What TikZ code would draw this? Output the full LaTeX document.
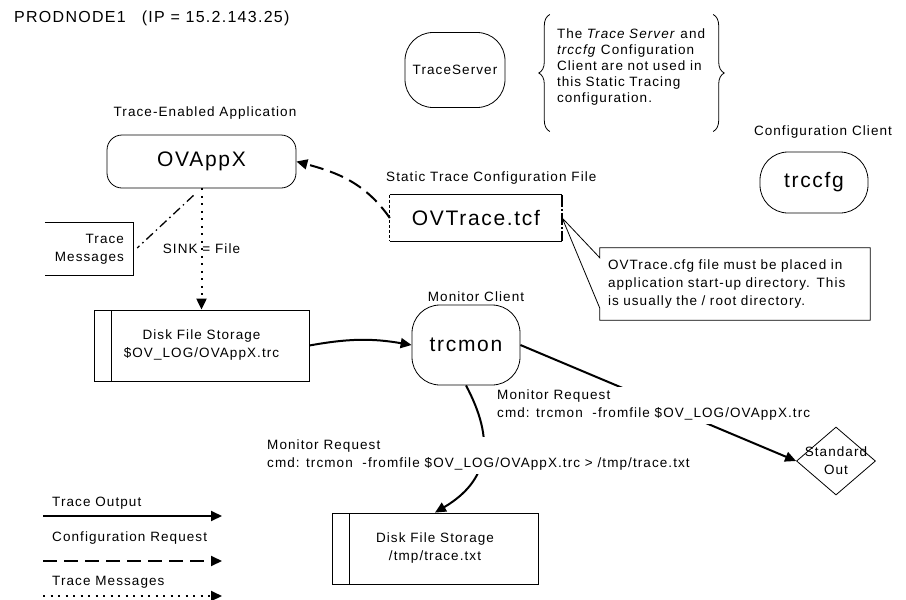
\documentclass[tikz,border=0pt]{standalone}
\usepackage{fontspec}
\setmainfont{Liberation Sans}[LetterSpace=8]
\usetikzlibrary{shapes.geometric, arrows.meta, decorations.pathreplacing}
\newcommand{\smalltxt}{\fontsize{13.5}{18}\selectfont}
\newcommand{\bigtxt}{\fontsize{21}{24}\selectfont}
\tikzstyle{lbl} = [font=\smalltxt, inner sep=0pt]
\tikzstyle{blob} = [rectangle, draw, line width=0.8pt, rounded corners=28pt, minimum width=108pt]
\tikzstyle{appbox} = [rectangle, draw, line width=0.8pt, rounded corners=15pt, minimum width=189pt, minimum height=53pt, font=\bigtxt]
\tikzstyle{disk} = [rectangle, draw, line width=0.8pt, minimum height=71pt, align=center, font=\smalltxt, path picture={\draw[line width=0.8pt] ([xshift=17pt]path picture bounding box.north west) -- ([xshift=17pt]path picture bounding box.south west);}]
\tikzstyle{filebox} = [rectangle, minimum width=172pt, minimum height=46pt, font=\bigtxt]
\tikzstyle{hint} = [rectangle, align=left, font=\smalltxt, text width=254pt, inner xsep=8pt, minimum height=72pt]
\tikzstyle{outbox} = [diamond, draw, line width=0.8pt, minimum width=79pt, minimum height=68pt, inner sep=0pt]
\tikzstyle{request} = [align=left, font=\smalltxt, fill=white, inner sep=3pt, anchor=west]
\tikzstyle{thinline} = [line width=0.8pt]
\tikzstyle{curly} = [line width=0.8pt, decorate, decoration={brace, amplitude=11pt}]
\tikzstyle{arrow} = [line width=2pt, ->, >={Triangle[length=11pt,width=10pt]}]
\tikzstyle{cfgarrow} = [arrow, dash pattern=on 14pt off 7pt]
\tikzstyle{msgarrow} = [arrow, dash pattern=on 2pt off 5.5pt]
\tikzstyle{noteline} = [line width=1.3pt, dash pattern=on 9pt off 4pt on 1.5pt off 4pt]

\begin{document}
\begin{tikzpicture}[x=1pt, y=1pt]
            \useasboundingbox (0,0) rectangle (906,-600);
            \node [lbl, anchor=west, font=\fontsize{16}{18}\selectfont] at (14,-18) (title) {PRODNODE1\quad (IP = 15.2.143.25)};
            \node [blob, font=\smalltxt, minimum width=100pt, minimum height=75pt] at (455,-70) (server) {TraceServer};
            \node [lbl, align=left, text width=152pt, font=\fontsize{13.5}{16}\selectfont] at (633,-67) (note) {The \textit{Trace Server} and\\\textit{trccfg} Configuration\\Client are not used in\\this Static Tracing\\configuration.};
            \draw [curly] ([xshift=-7pt,yshift=-26pt]note.south west) -- ([xshift=-7pt,yshift=14pt]note.north west);
            \draw [curly] ([xshift=4pt,yshift=14pt]note.north east) -- ([xshift=4pt,yshift=-26pt]note.south east);
            \node [lbl] at (823,-132) (cfglbl) {Configuration Client};
            \node [blob, font=\bigtxt, minimum height=61pt] at (814,-182.5) (trccfg) {trccfg};
            \node [lbl] at (205,-113) (applbl) {Trace-Enabled Application};
            \node [appbox] at (201.5,-161.5) (app) {OVAppX};
            \node [lbl, anchor=west] at (386,-178) (tcflbl) {Static Trace Configuration File};
            \node [filebox] at (476,-218) (tcf) {OVTrace.tcf};
            \draw [thinline] (tcf.north west) -- (tcf.north east);
            \draw [thinline] (tcf.south west) -- (tcf.south east);
            \draw [thinline, dash pattern=on 3pt off 2pt] (tcf.north west) -- (tcf.south west);
            \draw [line width=1.6pt, dash pattern=on 12pt off 2pt on 2pt off 2pt] (tcf.north east) -- (tcf.south east);
            \node [hint] at (735,-284) (hint) {OVTrace.cfg file must be placed in\\application start-up directory. This\\is usually the / root directory.};
            \draw [thinline] (hint.north west) -- ([yshift=-10pt]hint.north west) -- (tcf.east) -- ([yshift=12pt]hint.south west) -- (hint.south west) -- (hint.south east) -- (hint.north east) -- cycle;
            \node [lbl, align=right, text width=70pt, inner xsep=9pt, minimum height=52pt] at (89,-249) (msgs) {Trace\\Messages};
            \draw [thinline] (msgs.north west) -- (msgs.north east) -- (msgs.south east) -- (msgs.south west);
            \node [disk, minimum width=215pt] at (201.5,-345.5) (disk1) {Disk File Storage\\\$OV\_LOG/OVAppX.trc};
            \node [lbl] at (476,-297) (monlbl) {Monitor Client};
            \node [blob, font=\bigtxt, minimum height=80pt] at (466,-345) (trcmon) {trcmon};
            \node [outbox, label={[lbl, align=center]center:Standard\\Out}] at (836,-461) (stdout) {};
            \node [disk, minimum width=206pt] at (435,-548.5) (disk2) {Disk File Storage\\/tmp/trace.txt};
            \draw [cfgarrow] (tcf.west) to [out=125, in=-15] (app.east);
            \draw [noteline] ([xshift=-8pt,yshift=-7pt]app.south) -- ([xshift=4pt,yshift=1pt]msgs.east);
            \draw [msgarrow] (app.south) -- node [lbl] (sink) {SINK = File} (disk1.north);
            \draw [arrow] (disk1.east) to [bend left=10] (trcmon.west);
            \draw [arrow] (trcmon.east) -- (stdout.west);
            \draw [arrow] (trcmon.south) .. controls (495,-440) and (490,-480) .. (disk2.north);
            \node [request] at (494,-405.5) (req1) {Monitor Request\\cmd: trcmon\ \ -fromfile \$OV\_LOG/OVAppX.trc};
            \node [request] at (264,-455.5) (req2) {Monitor Request\\cmd: trcmon\ \ -fromfile \$OV\_LOG/OVAppX.trc > /tmp/trace.txt};
            \node [lbl, anchor=west] at (52,-503) (lgout) {Trace Output};
            \coordinate (lgoutA) at (43,-516);
            \coordinate (lgoutB) at (222,-516);
            \draw [arrow] (lgoutA) -- (lgoutB);
            \node [lbl, anchor=west] at (52,-538) (lgcfg) {Configuration Request};
            \coordinate (lgcfgA) at (43,-561);
            \coordinate (lgcfgB) at (222,-561);
            \draw [cfgarrow] (lgcfgA) -- (lgcfgB);
            \node [lbl, anchor=west] at (52,-582) (lgmsg) {Trace Messages};
            \coordinate (lgmsgA) at (43,-596);
            \coordinate (lgmsgB) at (222,-596);
            \draw [msgarrow] (lgmsgA) -- (lgmsgB);
\end{tikzpicture}
\end{document}
